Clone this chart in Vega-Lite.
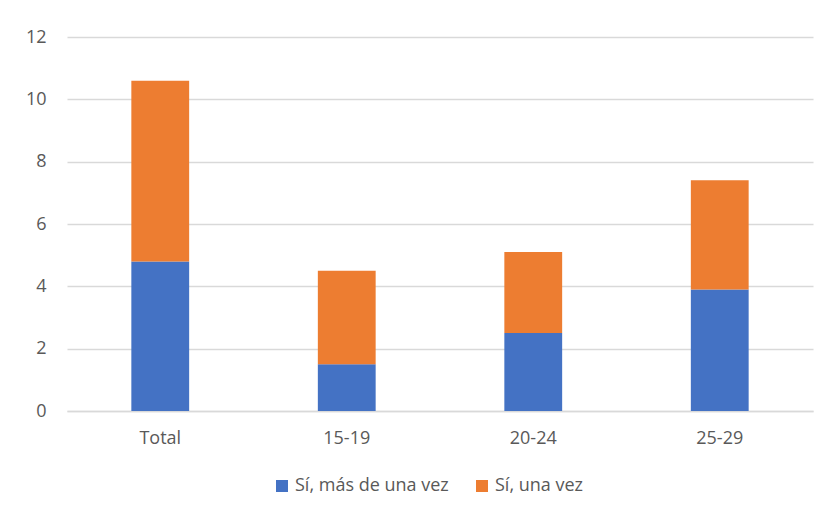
{
  "$schema": "https://vega.github.io/schema/vega-lite/v6.json",
  "width": 746,
  "height": 374,
  "autosize": {"type": "none"},
  "padding": {"left": 67, "top": 37, "right": 15, "bottom": 103},
  "background": "white",
  "config": {
    "font": "Open Sans",
    "view": {"stroke": null},
    "axis": {"labelFont": "Open Sans", "labelColor": "#595959", "labelFontSize": 18},
    "legend": {"labelFont": "Open Sans", "labelColor": "#595959", "labelFontSize": 18}
  },
  "data": {
    "values": [
      {"grupo": "Total", "respuesta": "Sí, más de una vez", "orden": 1, "valor": 4.8},
      {"grupo": "Total", "respuesta": "Sí, una vez", "orden": 2, "valor": 5.8},
      {"grupo": "15-19", "respuesta": "Sí, más de una vez", "orden": 1, "valor": 1.5},
      {"grupo": "15-19", "respuesta": "Sí, una vez", "orden": 2, "valor": 3.0},
      {"grupo": "20-24", "respuesta": "Sí, más de una vez", "orden": 1, "valor": 2.5},
      {"grupo": "20-24", "respuesta": "Sí, una vez", "orden": 2, "valor": 2.6},
      {"grupo": "25-29", "respuesta": "Sí, más de una vez", "orden": 1, "valor": 3.9},
      {"grupo": "25-29", "respuesta": "Sí, una vez", "orden": 2, "valor": 3.5}
    ]
  },
  "mark": {"type": "bar"},
  "encoding": {
    "x": {
      "field": "grupo",
      "type": "nominal",
      "sort": ["Total", "15-19", "20-24", "25-29"],
      "scale": {"paddingInner": 0.69, "paddingOuter": 0.345},
      "axis": {
        "title": null,
        "labelAngle": 0,
        "ticks": false,
        "domainColor": "#D9D9D9",
        "domainWidth": 1.5,
        "labelPadding": 18
      }
    },
    "y": {
      "field": "valor",
      "type": "quantitative",
      "stack": "zero",
      "scale": {"domain": [0, 12]},
      "axis": {
        "title": null,
        "values": [0, 2, 4, 6, 8, 10, 12],
        "domain": false,
        "ticks": false,
        "gridColor": "#D9D9D9",
        "gridWidth": 1.5,
        "labelPadding": 21
      }
    },
    "color": {
      "field": "respuesta",
      "type": "nominal",
      "scale": {
        "domain": ["Sí, más de una vez", "Sí, una vez"],
        "range": ["#4472C4", "#ED7D31"]
      },
      "legend": {
        "title": null,
        "orient": "none",
        "legendX": 206,
        "legendY": 440,
        "direction": "horizontal",
        "symbolType": "square",
        "symbolSize": 144,
        "symbolStrokeWidth": 0,
        "labelOffset": 4,
        "columnPadding": 24
      }
    },
    "order": {"field": "orden", "type": "quantitative", "sort": "ascending"}
  }
}
